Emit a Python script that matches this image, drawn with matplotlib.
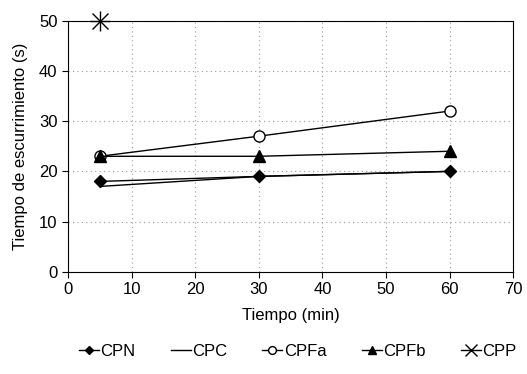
import numpy as np
import matplotlib.pyplot as plt

plt.rcParams['font.family'] = ['Liberation Sans', 'DejaVu Sans']

t = [5, 30, 60]
cpn = [18, 19, 20]
cpc = [17, 19, 20]
cpfa = [23, 27, 32]
cpfb = [23, 23, 24]
t_cpp = [5]
cpp = [50]

fig = plt.figure(figsize=(5.27, 3.74), dpi=100)
ax = fig.add_axes([0.129, 0.273, 0.845, 0.672])

ax.plot(t, cpn, 'k-', marker='D', ms=6, lw=1, label='CPN', clip_on=False)
ax.plot(t, cpc, 'k-', lw=1, label='CPC', clip_on=False)
ax.plot(t, cpfa, 'k-', marker='o', mfc='white', ms=8, lw=1, label='CPFa', clip_on=False)
ax.plot(t, cpfb, 'k-', marker='^', ms=8, lw=1, label='CPFb', clip_on=False)
ax.plot(t_cpp, cpp, 'k-', marker='x', ms=12, mew=1, lw=1, label='CPP', clip_on=False, zorder=5)
ax.plot(t_cpp, cpp, 'k', marker='+', ms=14, mew=1, lw=0, clip_on=False, zorder=5)

ax.set_xlim(0, 70)
ax.set_ylim(0, 50)
ax.set_xticks(np.arange(0, 71, 10))
ax.set_yticks(np.arange(0, 51, 10))
ax.grid(True, ls=(0, (1, 3)), color='#999999', lw=0.8)
ax.tick_params(labelsize=12, length=4, direction='out')
ax.set_xlabel('Tiempo (min)', fontsize=12, labelpad=8)
ax.set_ylabel('Tiempo de escurrimiento (s)', fontsize=12, labelpad=8)

fig.legend(loc='center', bbox_to_anchor=(0.565, 0.06), ncol=5, frameon=False,
           fontsize=12, handlelength=1.2, handletextpad=0.1, columnspacing=2.1, markerscale=0.7)

plt.savefig('out.png', dpi=100)
